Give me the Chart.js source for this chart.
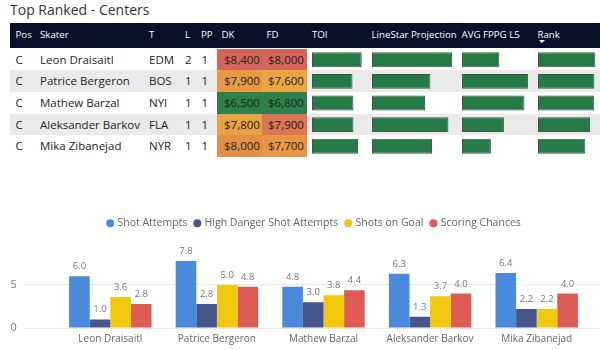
<!DOCTYPE html>
<html><head><meta charset="utf-8">
<script src="https://cdn.jsdelivr.net/npm/chart.js@4.4.1/dist/chart.umd.min.js"></script>
<style>
html,body{margin:0;padding:0;background:#fff}
body{width:600px;height:350px;overflow:hidden;position:relative;font-family:'Open Sans','Noto Sans',sans-serif}
.a{position:absolute;white-space:nowrap}
canvas{position:absolute}
</style></head><body>
<script>
// ---------- data ----------
const players = ['Leon Draisaitl','Patrice Bergeron','Mathew Barzal','Aleksander Barkov','Mika Zibanejad'];
const positions = ['C','C','C','C','C'];
const teams = ['EDM','BOS','NYI','FLA','NYR'];
const lines = [2,1,1,1,1];
const powerPlay = [1,1,1,1,1];
const dkSalary = [8400,7900,6500,7800,8000];
const fdSalary = [8000,7600,6800,7900,7700];
const toi = [21.5,17.5,17.9,17.9,19.9];
const lineStarProj = [15.1,11.0,10.0,14.4,11.3];
const avgFppgL5 = [8.0,14.2,13.4,9.0,6.2];
const rankScore = [12.1,11.9,11.9,11.0,10.0];
const headers = ['Pos','Skater','T','L','PP','DK','FD','TOI','LineStar Projection','AVG FPPG L5','Rank'];
const seriesNames = ['Shot Attempts','High Danger Shot Attempts','Shots on Goal','Scoring Chances'];
const shotAttempts = [6.0,7.8,4.8,6.3,6.4];
const highDanger = [1.0,2.8,3.0,1.3,2.2];
const shotsOnGoal = [3.6,5.0,3.8,3.7,2.2];
const scoringChances = [2.8,4.8,4.4,4.0,4.0];
const yTicks = [0,5];

// ---------- helpers ----------
const FONT = "'Open Sans','Noto Sans',sans-serif";
function el(txt, css){const d=document.createElement('div');d.className='a';d.textContent=txt;Object.assign(d.style,css);document.body.appendChild(d);return d;}
function hex(c){return [1,3,5].map(i=>parseInt(c.substr(i,2),16));}
function scaleColor(t){
  const stops=[[0,'#2d8049'],[0.5,'#e8c246'],[0.72,'#e99c40'],[1,'#d6645a']];
  for(let i=1;i<stops.length;i++){
    if(t<=stops[i][0]){const [t0,c0]=stops[i-1],[t1,c1]=stops[i];const f=(t-t0)/(t1-t0);
      const a=hex(c0),b=hex(c1);return 'rgb('+a.map((v,k)=>Math.round(v+(b[k]-v)*f)).join(',')+')';}
  }
  return stops[stops.length-1][1];
}

// ---------- table ----------
el('Top Ranked - Centers',{left:'10px',top:'0px',fontSize:'14px',color:'#333'});
el('',{left:'10px',top:'23px',width:'590px',height:'25px',background:'#0b1029'});
const colX=[15.5,40,149,185,201,221.5,266.5,312,371.5,461.5,537.5];
headers.forEach((h,i)=>el(h,{left:colX[i]+'px',top:'23px',lineHeight:'23px',fontSize:'9.7px',color:'#fff'}));
el('',{left:'538.5px',top:'40px',width:'0',height:'0',borderLeft:'3px solid transparent',borderRight:'3px solid transparent',borderTop:'3px solid #fff'});
const ROW0=48.5, RH=21.7;
const dkMin=Math.min(...dkSalary),dkMax=Math.max(...dkSalary),fdMin=Math.min(...fdSalary),fdMax=Math.max(...fdSalary);
players.forEach((p,i)=>{
  const top=ROW0+i*RH;
  if(i%2===1) el('',{left:'10px',top:top+'px',width:'590px',height:RH+'px',background:'#eaeaea'});
  el('',{left:'216.7px',top:top+'px',width:'45px',height:RH+'px',background:scaleColor((dkSalary[i]-dkMin)/(dkMax-dkMin))});
  el('',{left:'261.7px',top:top+'px',width:'45.6px',height:RH+'px',background:scaleColor((fdSalary[i]-fdMin)/(fdMax-fdMin))});
  const cells=[positions[i],p,teams[i],String(lines[i]),String(powerPlay[i]),'$'+dkSalary[i].toLocaleString('en-US'),'$'+fdSalary[i].toLocaleString('en-US')];
  const xs=[15.5,40,149,185,201.5,224,268];
  cells.forEach((c,k)=>el(c,{left:xs[k]+'px',top:top+'px',lineHeight:RH+'px',fontSize:'11.5px',color:'#252423'}));
});

function dataBars(values,left,width,max){
  const c=document.createElement('canvas');
  c.width=width;c.height=108;c.style.left=left+'px';c.style.top='48.5px';
  document.body.appendChild(c);
  new Chart(c,{type:'bar',
    data:{labels:players,datasets:[{data:values,backgroundColor:'#257b47',borderColor:'#4b5340',borderWidth:1,borderSkipped:false}]},
    options:{indexAxis:'y',responsive:false,animation:false,layout:{padding:0},
      datasets:{bar:{barPercentage:1,categoryPercentage:0.69}},
      plugins:{legend:{display:false},tooltip:{enabled:false}},
      scales:{x:{display:false,min:0,max:max},y:{display:false}}}});
}
dataBars(toi,312,56,24.2);
dataBars(lineStarProj,371.5,86,16.2);
dataBars(avgFppgL5,461.5,75,16.1);
dataBars(rankScore,537.5,62,13.1);

// ---------- grouped bar chart ----------
const cv=document.createElement('canvas');
cv.width=600;cv.height=140;cv.style.left='0px';cv.style.top='210px';
document.body.appendChild(cv);
const valueLabels={id:'valueLabels',afterDatasetsDraw(chart){
  const ctx=chart.ctx;ctx.save();ctx.font='9.5px '+FONT;ctx.fillStyle='#777';ctx.textAlign='center';ctx.textBaseline='alphabetic';
  chart.data.datasets.forEach((ds,di)=>{chart.getDatasetMeta(di).data.forEach((b,i)=>{ctx.fillText(ds.data[i].toFixed(1),b.x,b.y-7);});});
  ctx.restore();}};
const tickFix=s=>{s.ticks=yTicks.map(v=>({value:v}));};
new Chart(cv,{type:'bar',
  data:{labels:players,datasets:[
    {label:seriesNames[0],data:shotAttempts,backgroundColor:'#4a89dc'},
    {label:seriesNames[1],data:highDanger,backgroundColor:'#46568a'},
    {label:seriesNames[2],data:shotsOnGoal,backgroundColor:'#f2c80f'},
    {label:seriesNames[3],data:scoringChances,backgroundColor:'#dd5a55'}]},
  options:{responsive:false,animation:false,
    layout:{padding:{left:29,right:0,top:0,bottom:0}},
    datasets:{bar:{barPercentage:1,categoryPercentage:0.773}},
    plugins:{tooltip:{enabled:false},
      legend:{position:'top',labels:{usePointStyle:true,pointStyle:'circle',boxWidth:4,boxHeight:5.66,padding:8,color:'#666',font:{size:10.5,family:FONT}}}},
    scales:{
      x:{grid:{display:false,drawTicks:false},border:{display:false},ticks:{color:'#666',font:{size:10,family:FONT},padding:5,maxRotation:0,autoSkip:false},afterFit(s){s.height=22;}},
      y:{type:'linear',min:0,max:10.4,afterBuildTicks:tickFix,grid:{color:'#e8e8e8',tickLength:32},border:{display:false},ticks:{color:'#777',font:{size:11,family:FONT},mirror:true,padding:-46.5},afterFit(s){s.width=28;}},
      y2:{type:'linear',position:'right',min:0,max:10.4,afterBuildTicks:tickFix,grid:{color:'#e8e8e8',tickLength:10,drawOnChartArea:false},border:{display:false},ticks:{display:false},afterFit(s){s.width=10;}}
    }},
  plugins:[valueLabels]});
</script>
</body></html>
